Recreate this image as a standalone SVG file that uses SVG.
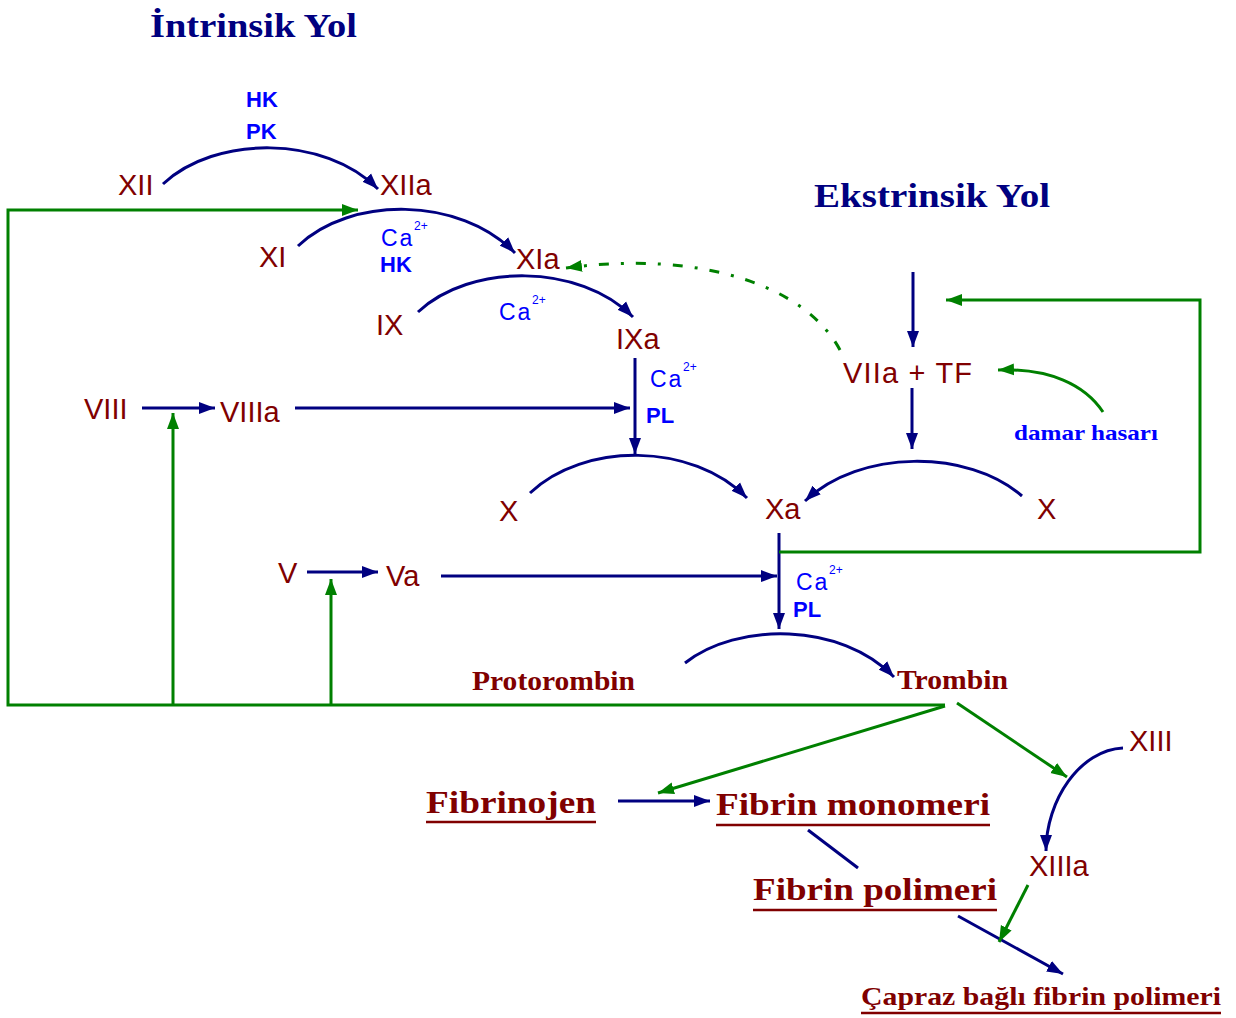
<svg xmlns="http://www.w3.org/2000/svg" width="1236" height="1018" viewBox="0 0 1236 1018">
<style>
.t{font-family:"Liberation Serif","Times New Roman",serif;font-weight:bold;fill:#000080}
.f{font-family:"Liberation Sans",Arial,sans-serif;font-size:29px;fill:#800000}
.e{font-family:"Liberation Sans",Arial,sans-serif;font-size:23px;fill:#0000ff}
.eb{font-family:"Liberation Sans",Arial,sans-serif;font-size:22px;font-weight:bold;fill:#0000ff}
.sup{font-family:"Liberation Sans",Arial,sans-serif;font-size:12px;fill:#0000ff}
.p{font-family:"Liberation Serif","Times New Roman",serif;font-weight:bold;fill:#800000}
.ul{stroke:#800000;stroke-width:2.5}
.n{fill:none;stroke:#000080;stroke-width:3}
.g{fill:none;stroke:#008000;stroke-width:3}
</style>
<defs>
<marker id="an" markerUnits="userSpaceOnUse" markerWidth="17" markerHeight="13" refX="16" refY="6.5" orient="auto"><path d="M0,0.5 L16,6.5 L0,12.5 z" fill="#000080"/></marker>
<marker id="ag" markerUnits="userSpaceOnUse" markerWidth="17" markerHeight="13" refX="16" refY="6.5" orient="auto"><path d="M0,0.5 L16,6.5 L0,12.5 z" fill="#008000"/></marker>
</defs>
<rect width="1236" height="1018" fill="#fff"/>

<g id="connectors">
<path class="n" d="M163,184 C215,135 325,135 378,189" marker-end="url(#an)"/>
<path class="n" d="M298,246 C350,196 460,196 515,253" marker-end="url(#an)"/>
<path class="n" d="M418,312 C470,263 580,263 633,317" marker-end="url(#an)"/>
<path class="n" d="M635,358 L635,454" marker-end="url(#an)"/>
<path class="n" d="M142,408 L215,408" marker-end="url(#an)"/>
<path class="n" d="M295,408 L630,408" marker-end="url(#an)"/>
<path class="n" d="M530,493 C584,442 692,442 747,498" marker-end="url(#an)"/>
<path class="n" d="M1022,496 C968,449 860,449 805,501" marker-end="url(#an)"/>
<path class="n" d="M913,272 L913,347" marker-end="url(#an)"/>
<path class="n" d="M912,388 L912,449" marker-end="url(#an)"/>
<path class="n" d="M779,533 L779,629" marker-end="url(#an)"/>
<path class="n" d="M307,572 L378,572" marker-end="url(#an)"/>
<path class="n" d="M441,576 L777,576" marker-end="url(#an)"/>
<path class="n" d="M685,663 C737,622 841,622 894,677" marker-end="url(#an)"/>
<path class="n" d="M618,801 L710,801" marker-end="url(#an)"/>
<path class="n" d="M808,830 L858,868"/>
<path class="n" d="M1123,748 C1080,750 1046,800 1046,851" marker-end="url(#an)"/>
<path class="n" d="M958,916 L1063,974" marker-end="url(#an)"/>
<path class="g" d="M945,705 L8,705 L8,210 L358,210" marker-end="url(#ag)"/>
<path class="g" d="M173,705 L173,413" marker-end="url(#ag)"/>
<path class="g" d="M331,705 L331,579" marker-end="url(#ag)"/>
<path class="g" d="M779,552 L1200,552 L1200,300 L946,300" marker-end="url(#ag)"/>
<path class="g" d="M840,350 C805,285 700,250 566,268" stroke-dasharray="10,12,3,12" marker-end="url(#ag)"/>
<path class="g" d="M1103,412 C1085,385 1050,368 998,370" marker-end="url(#ag)"/>
<path class="g" d="M945,706 L658,793" marker-end="url(#ag)"/>
<path class="g" d="M957,703 L1067,777" marker-end="url(#ag)"/>
<path class="g" d="M1028,885 L999,942" marker-end="url(#ag)"/>
</g>

<g id="title-intrinsik"><text class="t" x="150" y="37" font-size="34" textLength="207" lengthAdjust="spacingAndGlyphs">İntrinsik Yol</text></g>
<g id="title-ekstrinsik"><text class="t" x="814" y="207" font-size="34" textLength="236" lengthAdjust="spacingAndGlyphs">Ekstrinsik Yol</text></g>

<g id="label-hk-pk"><text class="eb" x="246" y="107">HK</text><text class="eb" x="246" y="139">PK</text></g>
<g id="label-ca-hk"><text class="e" x="381" y="246" letter-spacing="2">Ca</text><text class="sup" x="414" y="230">2+</text><text class="eb" x="380" y="272">HK</text></g>
<g id="label-ca-ix"><text class="e" x="499" y="320" letter-spacing="2">Ca</text><text class="sup" x="532" y="304">2+</text></g>
<g id="label-ca-pl-1"><text class="e" x="650" y="387" letter-spacing="2">Ca</text><text class="sup" x="683" y="371">2+</text><text class="eb" x="646" y="423">PL</text></g>
<g id="label-ca-pl-2"><text class="e" x="796" y="590" letter-spacing="2">Ca</text><text class="sup" x="829" y="574">2+</text><text class="eb" x="793" y="617">PL</text></g>

<g id="node-XII"><text class="f" x="118" y="195">XII</text></g>
<g id="node-XIIa"><text class="f" x="380" y="195">XIIa</text></g>
<g id="node-XI"><text class="f" x="259" y="267">XI</text></g>
<g id="node-XIa"><text class="f" x="516" y="269">XIa</text></g>
<g id="node-IX"><text class="f" x="376" y="335">IX</text></g>
<g id="node-IXa"><text class="f" x="616" y="349">IXa</text></g>
<g id="node-VIII"><text class="f" x="84" y="419">VIII</text></g>
<g id="node-VIIIa"><text class="f" x="220" y="422">VIIIa</text></g>
<g id="node-VIIa-TF"><text class="f" x="843" y="383" textLength="129">VIIa + TF</text></g>
<g id="node-damar"><text class="t" x="1014" y="440" font-size="21" style="fill:#0000ff" textLength="144" lengthAdjust="spacingAndGlyphs">damar hasarı</text></g>
<g id="node-X-left"><text class="f" x="499" y="521">X</text></g>
<g id="node-Xa"><text class="f" x="765" y="519">Xa</text></g>
<g id="node-X-right"><text class="f" x="1037" y="519">X</text></g>
<g id="node-V"><text class="f" x="278" y="583">V</text></g>
<g id="node-Va"><text class="f" x="386" y="586">Va</text></g>
<g id="node-protorombin"><text class="p" x="472" y="690" font-size="27" textLength="163" lengthAdjust="spacingAndGlyphs">Protorombin</text></g>
<g id="node-trombin"><text class="p" x="897" y="689" font-size="27" textLength="111" lengthAdjust="spacingAndGlyphs">Trombin</text></g>
<g id="node-XIII"><text class="f" x="1129" y="751">XIII</text></g>
<g id="node-XIIIa"><text class="f" x="1029" y="876">XIIIa</text></g>
<g id="node-fibrinojen"><text class="p" x="426" y="813" font-size="32" textLength="170" lengthAdjust="spacingAndGlyphs">Fibrinojen</text><line class="ul" x1="426" y1="822" x2="596" y2="822"/></g>
<g id="node-fibrin-monomeri"><text class="p" x="716" y="815" font-size="32" textLength="274" lengthAdjust="spacingAndGlyphs">Fibrin monomeri</text><line class="ul" x1="716" y1="825" x2="990" y2="825"/></g>
<g id="node-fibrin-polimeri"><text class="p" x="753" y="900" font-size="32" textLength="244" lengthAdjust="spacingAndGlyphs">Fibrin polimeri</text><line class="ul" x1="753" y1="910" x2="997" y2="910"/></g>
<g id="node-capraz"><text class="p" x="861" y="1005" font-size="26" textLength="360" lengthAdjust="spacingAndGlyphs">Çapraz bağlı fibrin polimeri</text><line class="ul" x1="861" y1="1013" x2="1221" y2="1013"/></g>
</svg>
